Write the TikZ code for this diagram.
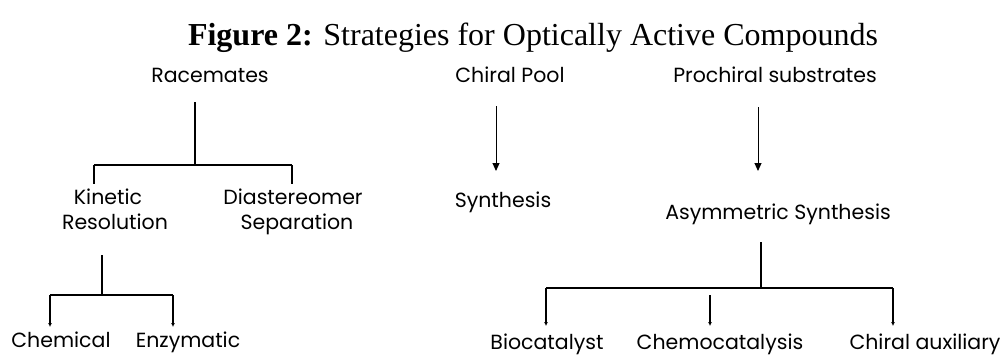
\documentclass[tikz,border=0pt]{standalone}
\usepackage{fontspec}
\setmainfont{Liberation Serif}
\newfontfamily\labfont{Poppins}
\usetikzlibrary{arrows.meta}
\begin{document}
\begin{tikzpicture}[x=1pt,y=-1pt,
  lab/.style={font=\labfont\fontsize{20.5}{25}\selectfont, inner sep=0pt, align=center, anchor=base},
  tree/.style={line width=1.2pt},
  bar/.style={line width=2pt},
  bigarr/.style={line width=1pt,-{Triangle[length=8pt,width=7pt]}},
  smallarr/.style={line width=1.2pt,-{Latex[length=4pt,width=4pt]}}]
\useasboundingbox (0,0) rectangle (1005,360);
\node[inner sep=0pt,anchor=base,font=\fontsize{32}{36}\selectfont] (title) at (533,45) {\textbf{Figure 2:} Strategies for Optically Active Compounds};
\node[lab] (rac) at (210,82) {Racemates};
\node[lab] (kin) at (108,204) {Kinetic};
\node[lab] (res) at (115,229) {Resolution};
\node[lab] (dia) at (293,204) {Diastereomer};
\node[lab] (sep) at (297,229) {Separation};
\node[lab] (chem) at (61,347) {Chemical};
\node[lab] (enz) at (188,347) {Enzymatic};
\node[lab] (pool) at (510,82) {Chiral Pool};
\node[lab] (syn) at (503,207) {Synthesis};
\node[lab] (pro) at (775,82) {Prochiral substrates};
\node[lab] (asy) at (778,219) {Asymmetric Synthesis};
\node[lab] (bio) at (547,349) {Biocatalyst};
\node[lab] (cc) at (720,349) {Chemocatalysis};
\node[lab] (aux) at (925,349) {Chiral auxiliary};
% Racemates tree
\coordinate (r1) at (195,102);
\coordinate (r2) at (195,165);
\coordinate (rl) at (94,165);
\coordinate (rr) at (292,165);
\draw[tree] (r1) -- (r2);
\draw[bar] (rl) -- (rr);
\draw[tree] (rl) -- (94,184);
\draw[tree] (rr) -- (292,184);
% Kinetic tree
\coordinate (k1) at (102,255);
\coordinate (k2) at (102,295);
\coordinate (kl) at (50,295);
\coordinate (kr) at (173,295);
\draw[tree] (k1) -- (k2);
\draw[bar] (kl) -- (kr);
\draw[smallarr] (kl) -- (50,327);
\draw[smallarr] (kr) -- (173,327);
% Chiral pool
\draw[bigarr] (496,106) -- (496,171);
% Prochiral
\draw[bigarr] (758,107) -- (758,171);
% Asymmetric tree
\coordinate (a1) at (761,242);
\coordinate (a2) at (761,288);
\coordinate (al) at (546,288);
\coordinate (ar) at (893,288);
\draw[tree] (a1) -- (a2);
\draw[bar] (al) -- (ar);
\draw[smallarr] (al) -- (546,326);
\draw[smallarr] (710,295) -- (710,326);
\draw[smallarr] (ar) -- (893,326);
\end{tikzpicture}
\end{document}
